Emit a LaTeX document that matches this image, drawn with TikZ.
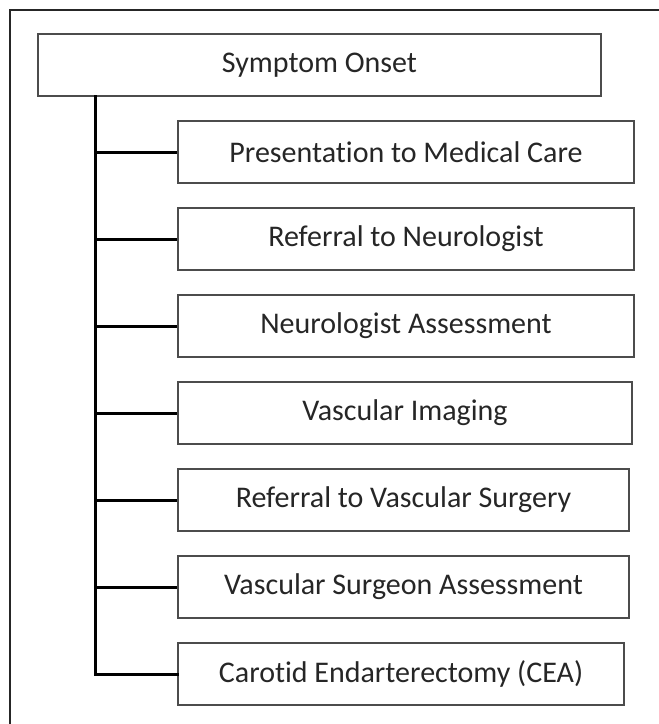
\documentclass[tikz,border=0pt]{standalone}
\usepackage{fontspec}
\setmainfont[Ligatures={NoCommon}]{Carlito}
\begin{document}
\begin{tikzpicture}[x=1pt,y=-1pt,
  box/.style={draw=black!70,line width=1.6pt,fill=white,inner sep=0pt,
    font=\fontsize{30}{33}\selectfont,text=black!85},
  link/.style={line width=3pt,black}]
\useasboundingbox (0,0) rectangle (659,724);
\draw[line width=1.3pt,black!85] (10,724) -- (10,10) -- (659,10);
\node[box,minimum width=563pt,minimum height=62pt] (top) at (319.5,65) {Symptom Onset};
\node[box,minimum width=456pt,minimum height=62pt] (c1) at (406,152) {Presentation to Medical Care};
\node[box,minimum width=456pt,minimum height=62pt] (c2) at (406,239) {Referral to Neurologist};
\node[box,minimum width=456pt,minimum height=62pt] (c3) at (406,326) {Neurologist Assessment};
\node[box,minimum width=454pt,minimum height=62pt] (c4) at (405,413) {Vascular Imaging};
\node[box,minimum width=451pt,minimum height=62pt] (c5) at (403.5,500) {Referral to Vascular Surgery};
\node[box,minimum width=451pt,minimum height=62pt] (c6) at (403.5,587) {Vascular Surgeon Assessment};
\node[box,minimum width=446pt,minimum height=62pt] (c7) at (401,674) {Carotid Endarterectomy (CEA)};
\coordinate (t) at (95,0);
\draw[link,line cap=rect] (top.south -| t) -- (c7.west -| t) -- (c7.west);
\foreach \c in {c1,c2,c3,c4,c5,c6}{
  \draw[link] (\c.west -| t) -- (\c.west);
}
\end{tikzpicture}
\end{document}
